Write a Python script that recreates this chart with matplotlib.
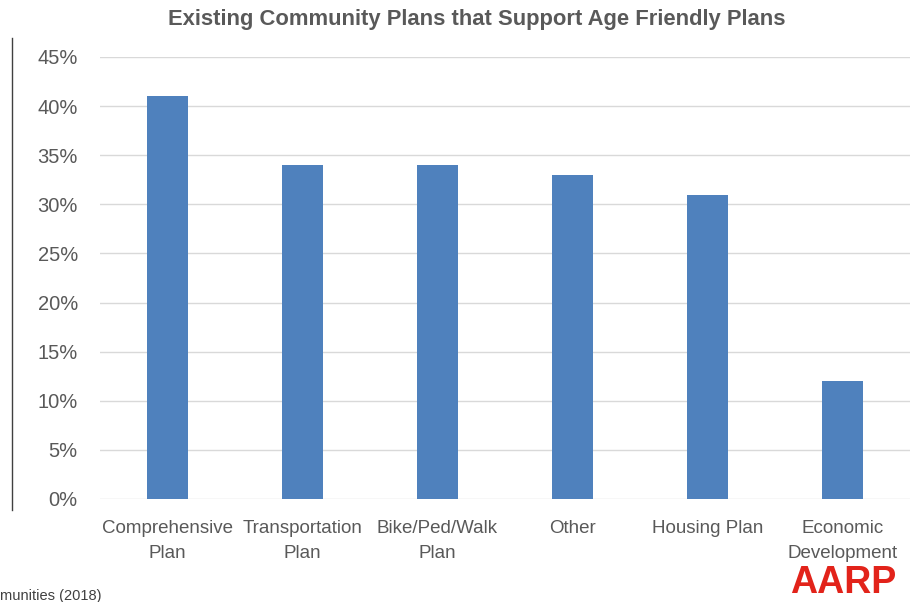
import matplotlib.pyplot as plt
from matplotlib.ticker import PercentFormatter
from matplotlib.lines import Line2D

categories = ["Comprehensive\nPlan", "Transportation\nPlan", "Bike/Ped/Walk\nPlan",
              "Other", "Housing Plan", "Economic\nDevelopment"]
values = [41, 34, 34, 33, 31, 12]
yticks = [0, 5, 10, 15, 20, 25, 30, 35, 40, 45]

plt.rcParams['font.family'] = ['Liberation Sans', 'DejaVu Sans']
gray = '#595959'

fig = plt.figure(figsize=(9.24, 6.02), dpi=100)
ax = fig.add_axes([100 / 924, 1 - 499 / 602, 810 / 924, 442 / 602])

ax.bar(range(len(values)), values, width=0.31, color='#4f81bd', zorder=3)
ax.set_xlim(-0.5, len(values) - 0.5)
ax.set_ylim(0, 45)
ax.set_yticks(yticks)
ax.yaxis.set_major_formatter(PercentFormatter(decimals=0))
ax.set_xticks(range(len(values)))
ax.set_xticklabels(categories, linespacing=1.6)
ax.tick_params(length=0, labelcolor=gray)
ax.tick_params(axis='x', labelsize=13.5, pad=15)
ax.tick_params(axis='y', labelsize=14.5, pad=16)
ax.grid(axis='y', color='#d9d9d9', linewidth=1, zorder=0)
for s in ax.spines.values():
    s.set_visible(False)

fig.text(477 / 924, 1 - 20 / 602, "Existing Community Plans that Support Age Friendly Plans",
         ha='center', va='center', fontsize=15.8, fontweight='bold', color=gray)

# left rule
fig.add_artist(Line2D([12 / 924, 12 / 924], [1 - 38 / 602, 1 - 510 / 602],
                      color='#404040', linewidth=1))

fig.text(0, 1 - 596 / 602, "munities (2018)", ha='left', va='center',
         fontsize=10.5, color='#404040')
fig.text(790 / 924, 1 / 602, "AARP", ha='left', va='bottom', fontsize=27,
         fontweight='bold', color='#e2231a')

fig.savefig('out.png', dpi=100)
